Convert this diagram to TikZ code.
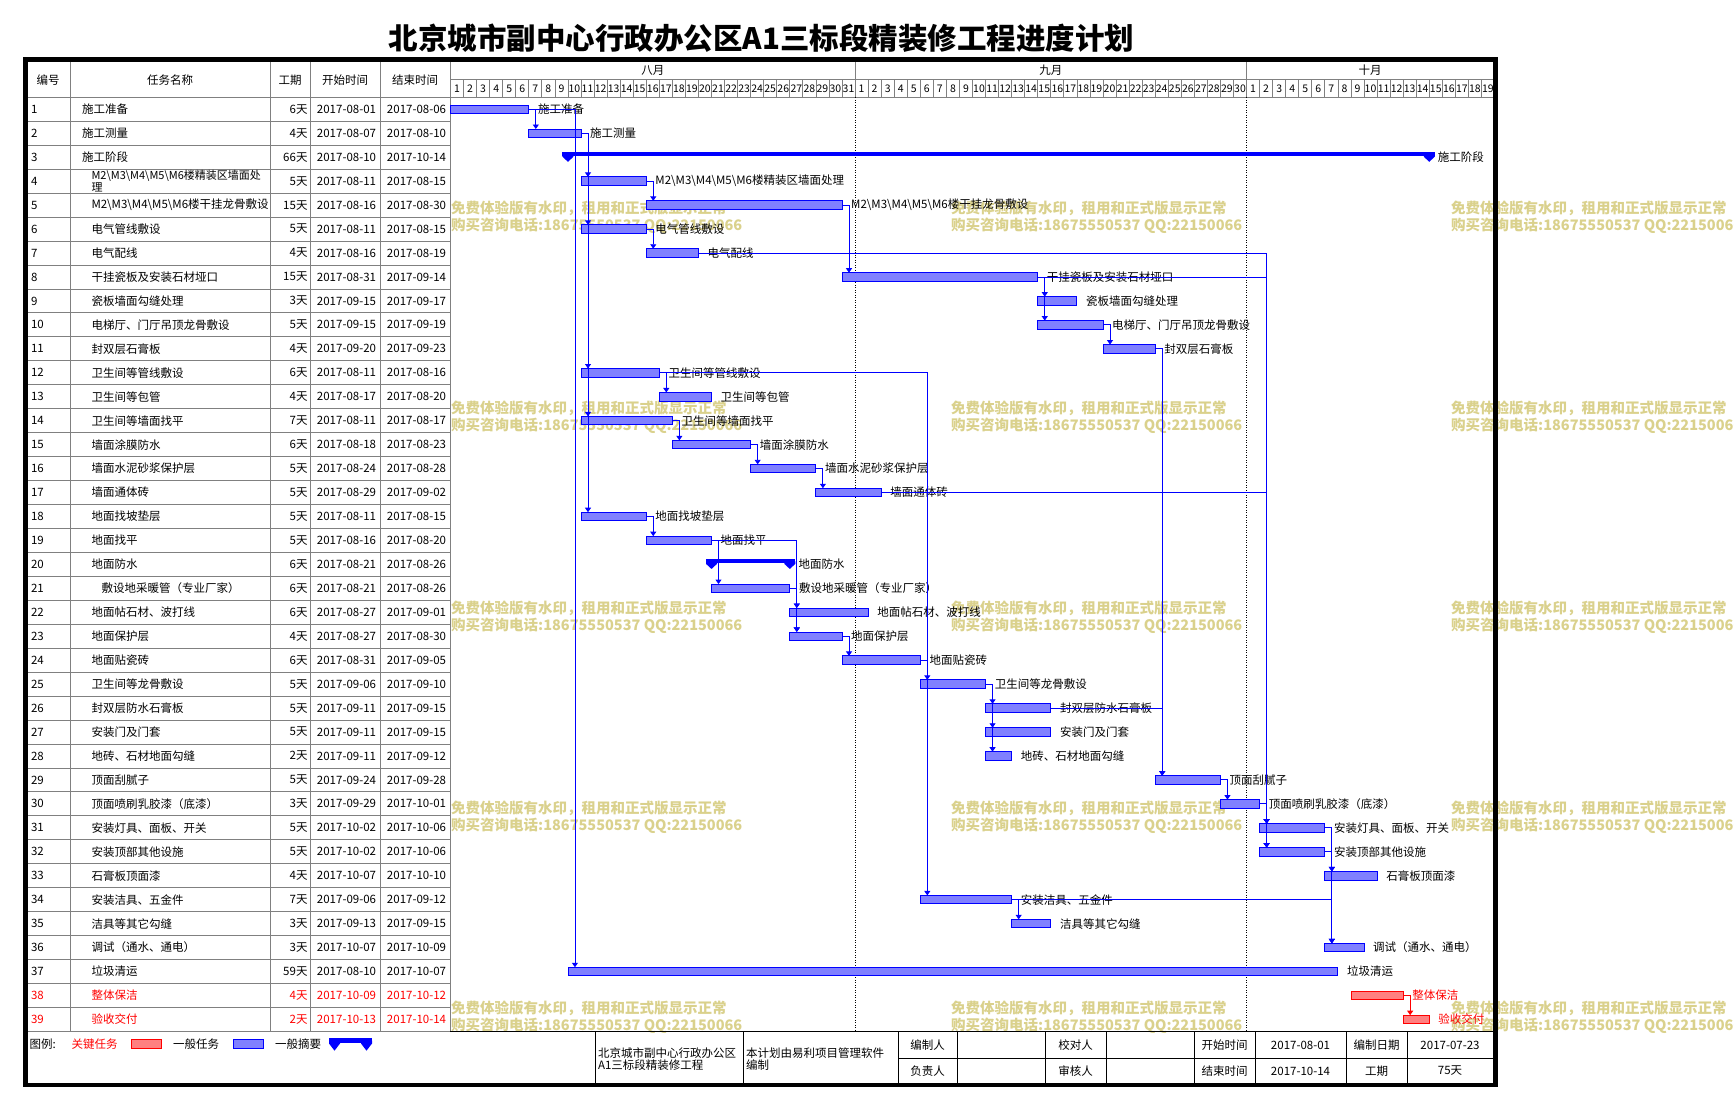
\documentclass[tikz,border=0pt]{standalone}
\usepackage{fontspec}
\setmainfont{Noto Sans CJK SC}
\usetikzlibrary{arrows.meta,calc}
\newcommand\fsz[1]{\fontsize{#1}{#1}\selectfont}
\definecolor{wmc}{RGB}{218,209,140}
\definecolor{gbfill}{RGB}{128,128,255}
\definecolor{crfill}{RGB}{255,128,128}
\definecolor{gline}{RGB}{128,128,128}
\definecolor{pblue}{RGB}{0,0,255}
\definecolor{pred}{RGB}{255,0,0}
% table row: [name style] row, colour, name x, name, duration, start, end
\newcommand\trow[8][]{%
 \pgfmathsetmacro\rY{109.3+23.95*(#2-1)}%
 \node[cell,text=#3,anchor=west] (n#2) at (31,\rY) {#2};
 \node[cell,text=#3,anchor=west,#1] (t#2) at (#4,\rY) {#5};
 \node[cell,text=#3,anchor=east] (du#2) at (307.5,\rY) {#6};
 \node[cell,text=#3] (s#2) at (346.5,\rY) {#7};
 \node[cell,text=#3] (e#2) at (416.5,\rY) {#8};
}
% bar: row, dstart, dend, label, style, text colour
\newcommand\gbar[6]{%
 \pgfmathsetmacro\gbX{450.5+13.05*#2}%
 \pgfmathsetmacro\gbW{13.05*(#3-#2)}%
 \pgfmathsetmacro\gbY{109.3+23.95*(#1-1)}%
 \node[#5, minimum width=\gbW pt] (b#1) at (\gbX,\gbY) {};
 \node[lbl,text=#6] (l#1) at ([xshift=9pt]b#1.east) {#4};
}
% summary: row, dstart, dend, label
\newcommand\gsum[4]{%
 \pgfmathsetmacro\gbX{450.5+13.05*#2}%
 \pgfmathsetmacro\gbE{450.5+13.05*#3}%
 \pgfmathsetmacro\gbW{\gbE-\gbX+11}%
 \pgfmathsetmacro\gbY{109.3+23.95*(#1-1)}%
 \node[sumbar, minimum width=\gbW pt, anchor=north west] (b#1) at (\gbX-5.5,\gbY-5.6) {};
 \fill[pblue] (\gbX-5.5,\gbY-3) -- ++(11,0) -- ++(0,2.5) -- (\gbX,\gbY+4.6) -- (\gbX-5.5,\gbY-0.5) -- cycle;
 \fill[pblue] (\gbE-5.5,\gbY-3) -- ++(11,0) -- ++(0,2.5) -- (\gbE,\gbY+4.6) -- (\gbE-5.5,\gbY-0.5) -- cycle;
 \node[lbl] (l#1) at (\gbE+8.5,\gbY) {#4};
}
\begin{document}
\begin{tikzpicture}[x=1pt,y=-1pt,
 cell/.style={inner sep=0pt, outer sep=0pt, font=\fsz{11.5}},
 gl/.style={draw=gline, line width=0.8pt},
 bl/.style={draw=black, line width=0.9pt},
 bar/.style={draw=pblue, line width=0.9pt, fill=gbfill, minimum height=8.5pt, inner sep=0pt, outer sep=0pt, anchor=west},
 crit/.style={bar, draw=pred, fill=crfill},
 sumbar/.style={fill=pblue, minimum height=4.5pt, inner sep=0pt, outer sep=0pt},
 lbl/.style={inner sep=0pt, anchor=west, font=\fsz{11.5}},
 conn/.style={draw=pblue, line width=0.9pt, -{Triangle[width=6pt,length=4.5pt]}},
 wm/.style={inner sep=0pt, anchor=west, text=wmc, font=\bfseries\fsz{14.5}},
 dotl/.style={draw=black, line width=0.8pt, dash pattern=on 1pt off 1.5pt},
 dayn/.style={inner sep=0pt, font=\fsz{10.5}},
]
\useasboundingbox (0,0) rectangle (1734,1109);
\fill[white] (0,0) rectangle (1734,1109);

% title
\node[font=\bfseries\fsz{29.5}, inner sep=0pt] (title) at (761.5,38.5) {北京城市副中心行政办公区A1三标段精装修工程进度计划};

% watermarks
\foreach \wx [count=\i] in {451,951,1451}{
 \foreach \wy [count=\j] in {208.3,408.3,608.3,808.3,1008.3}{
  \node[wm] (wmA\i\j) at (\wx,\wy) {免费体验版有水印，租用和正式版显示正常};
  \node[wm] (wmB\i\j) at (\wx,\wy+17.7) {购买咨询电话:18675550537 QQ:22150066};
 }}

% grid of table
\foreach \cx in {70,270,310,380,450} \draw[gl] (\cx,62) -- (\cx,1031.35);
\draw[gl] (27,97.3) -- (1494,97.3);
\draw[gl] (450,79.3) -- (1494,79.3);
\foreach \k in {1,...,38} \draw[gl] (27,{97.3+23.95*\k}) -- (450,{97.3+23.95*\k});
\draw[gl] (27,1031.35) -- (450,1031.35);
\draw[bl] (450,1031.35) -- (1494,1031.35);
\foreach \k in {1,...,79} \draw[gl] ({450.5+13.05*\k},79.3) -- ({450.5+13.05*\k},97.3);
\draw[gl] (855.05,62) -- (855.05,79.3);
\draw[gl] (1246.55,62) -- (1246.55,79.3);
\draw[dotl] (855.05,97.3) -- (855.05,1031.35);
\draw[dotl] (1246.55,97.3) -- (1246.55,1031.35);

% header
\node[cell] (hA) at (48,80) {编号};
\node[cell] (hB) at (170,80) {任务名称};
\node[cell] (hC) at (290,80) {工期};
\node[cell] (hD) at (345,80) {开始时间};
\node[cell] (hE) at (415,80) {结束时间};
\node[cell] (mA) at (652.8,70.6) {八月};
\node[cell] (mB) at (1050.8,70.6) {九月};
\node[cell] (mC) at (1370,70.6) {十月};
\foreach \d in {1,...,31} \node[dayn] (dA\d) at ({450.5+13.05*(\d-0.5)},88.5) {\d};
\foreach \d in {1,...,30} \node[dayn] (dB\d) at ({855.05+13.05*(\d-0.5)},88.5) {\d};
\foreach \d in {1,...,19} \node[dayn] (dC\d) at ({1246.55+13.05*(\d-0.5)},88.5) {\d};

% table rows
\trow{1}{black}{82}{施工准备}{6天}{2017-08-01}{2017-08-06}
\trow{2}{black}{82}{施工测量}{4天}{2017-08-07}{2017-08-10}
\trow{3}{black}{82}{施工阶段}{66天}{2017-08-10}{2017-10-14}
\trow[font={\fontsize{11}{10.7}\selectfont},align=left]{4}{black}{91.5}{M2\textbackslash M3\textbackslash M4\textbackslash M5\textbackslash M6楼精装区墙面处\\理}{5天}{2017-08-11}{2017-08-15}
\trow{5}{black}{91.5}{M2\textbackslash M3\textbackslash M4\textbackslash M5\textbackslash M6楼干挂龙骨敷设}{15天}{2017-08-16}{2017-08-30}
\trow{6}{black}{91.5}{电气管线敷设}{5天}{2017-08-11}{2017-08-15}
\trow{7}{black}{91.5}{电气配线}{4天}{2017-08-16}{2017-08-19}
\trow{8}{black}{91.5}{干挂瓷板及安装石材垭口}{15天}{2017-08-31}{2017-09-14}
\trow{9}{black}{91.5}{瓷板墙面勾缝处理}{3天}{2017-09-15}{2017-09-17}
\trow{10}{black}{91.5}{电梯厅、门厅吊顶龙骨敷设}{5天}{2017-09-15}{2017-09-19}
\trow{11}{black}{91.5}{封双层石膏板}{4天}{2017-09-20}{2017-09-23}
\trow{12}{black}{91.5}{卫生间等管线敷设}{6天}{2017-08-11}{2017-08-16}
\trow{13}{black}{91.5}{卫生间等包管}{4天}{2017-08-17}{2017-08-20}
\trow{14}{black}{91.5}{卫生间等墙面找平}{7天}{2017-08-11}{2017-08-17}
\trow{15}{black}{91.5}{墙面涂膜防水}{6天}{2017-08-18}{2017-08-23}
\trow{16}{black}{91.5}{墙面水泥砂浆保护层}{5天}{2017-08-24}{2017-08-28}
\trow{17}{black}{91.5}{墙面通体砖}{5天}{2017-08-29}{2017-09-02}
\trow{18}{black}{91.5}{地面找坡垫层}{5天}{2017-08-11}{2017-08-15}
\trow{19}{black}{91.5}{地面找平}{5天}{2017-08-16}{2017-08-20}
\trow{20}{black}{91.5}{地面防水}{6天}{2017-08-21}{2017-08-26}
\trow{21}{black}{101.5}{敷设地采暖管（专业厂家）}{6天}{2017-08-21}{2017-08-26}
\trow{22}{black}{91.5}{地面帖石材、波打线}{6天}{2017-08-27}{2017-09-01}
\trow{23}{black}{91.5}{地面保护层}{4天}{2017-08-27}{2017-08-30}
\trow{24}{black}{91.5}{地面贴瓷砖}{6天}{2017-08-31}{2017-09-05}
\trow{25}{black}{91.5}{卫生间等龙骨敷设}{5天}{2017-09-06}{2017-09-10}
\trow{26}{black}{91.5}{封双层防水石膏板}{5天}{2017-09-11}{2017-09-15}
\trow{27}{black}{91.5}{安装门及门套}{5天}{2017-09-11}{2017-09-15}
\trow{28}{black}{91.5}{地砖、石材地面勾缝}{2天}{2017-09-11}{2017-09-12}
\trow{29}{black}{91.5}{顶面刮腻子}{5天}{2017-09-24}{2017-09-28}
\trow{30}{black}{91.5}{顶面喷刷乳胶漆（底漆）}{3天}{2017-09-29}{2017-10-01}
\trow{31}{black}{91.5}{安装灯具、面板、开关}{5天}{2017-10-02}{2017-10-06}
\trow{32}{black}{91.5}{安装顶部其他设施}{5天}{2017-10-02}{2017-10-06}
\trow{33}{black}{91.5}{石膏板顶面漆}{4天}{2017-10-07}{2017-10-10}
\trow{34}{black}{91.5}{安装洁具、五金件}{7天}{2017-09-06}{2017-09-12}
\trow{35}{black}{91.5}{洁具等其它勾缝}{3天}{2017-09-13}{2017-09-15}
\trow{36}{black}{91.5}{调试（通水、通电）}{3天}{2017-10-07}{2017-10-09}
\trow{37}{black}{91.5}{垃圾清运}{59天}{2017-08-10}{2017-10-07}
\trow{38}{pred}{91.5}{整体保洁}{4天}{2017-10-09}{2017-10-12}
\trow{39}{pred}{91.5}{验收交付}{2天}{2017-10-13}{2017-10-14}

% bars
\gbar{1}{0}{6}{施工准备}{bar}{black}
\gbar{2}{6}{10}{施工测量}{bar}{black}
\gsum{3}{9}{75}{施工阶段}
\gbar{4}{10}{15}{M2\textbackslash M3\textbackslash M4\textbackslash M5\textbackslash M6楼精装区墙面处理}{bar}{black}
\gbar{5}{15}{30}{M2\textbackslash M3\textbackslash M4\textbackslash M5\textbackslash M6楼干挂龙骨敷设}{bar}{black}
\gbar{6}{10}{15}{电气管线敷设}{bar}{black}
\gbar{7}{15}{19}{电气配线}{bar}{black}
\gbar{8}{30}{45}{干挂瓷板及安装石材垭口}{bar}{black}
\gbar{9}{45}{48}{瓷板墙面勾缝处理}{bar}{black}
\gbar{10}{45}{50}{电梯厅、门厅吊顶龙骨敷设}{bar}{black}
\gbar{11}{50}{54}{封双层石膏板}{bar}{black}
\gbar{12}{10}{16}{卫生间等管线敷设}{bar}{black}
\gbar{13}{16}{20}{卫生间等包管}{bar}{black}
\gbar{14}{10}{17}{卫生间等墙面找平}{bar}{black}
\gbar{15}{17}{23}{墙面涂膜防水}{bar}{black}
\gbar{16}{23}{28}{墙面水泥砂浆保护层}{bar}{black}
\gbar{17}{28}{33}{墙面通体砖}{bar}{black}
\gbar{18}{10}{15}{地面找坡垫层}{bar}{black}
\gbar{19}{15}{20}{地面找平}{bar}{black}
\gsum{20}{20}{26}{地面防水}
\gbar{21}{20}{26}{敷设地采暖管（专业厂家）}{bar}{black}
\gbar{22}{26}{32}{地面帖石材、波打线}{bar}{black}
\gbar{23}{26}{30}{地面保护层}{bar}{black}
\gbar{24}{30}{36}{地面贴瓷砖}{bar}{black}
\gbar{25}{36}{41}{卫生间等龙骨敷设}{bar}{black}
\gbar{26}{41}{46}{封双层防水石膏板}{bar}{black}
\gbar{27}{41}{46}{安装门及门套}{bar}{black}
\gbar{28}{41}{43}{地砖、石材地面勾缝}{bar}{black}
\gbar{29}{54}{59}{顶面刮腻子}{bar}{black}
\gbar{30}{59}{62}{顶面喷刷乳胶漆（底漆）}{bar}{black}
\gbar{31}{62}{67}{安装灯具、面板、开关}{bar}{black}
\gbar{32}{62}{67}{安装顶部其他设施}{bar}{black}
\gbar{33}{67}{71}{石膏板顶面漆}{bar}{black}
\gbar{34}{36}{43}{安装洁具、五金件}{bar}{black}
\gbar{35}{43}{46}{洁具等其它勾缝}{bar}{black}
\gbar{36}{67}{70}{调试（通水、通电）}{bar}{black}
\gbar{37}{9}{68}{垃圾清运}{bar}{black}
\gbar{38}{69}{73}{整体保洁}{crit}{pred}
\gbar{39}{73}{75}{验收交付}{crit}{pred}

% connectors
\foreach \pa/\pb in {1/2,1/37,2/4,2/6,2/12,2/14,2/18,4/5,5/8,6/7,7/31,7/32,8/9,8/10,8/31,8/32,10/11,11/29,12/13,12/34,14/15,15/16,16/17,17/31,17/32,18/19,19/21,19/22,19/23,21/22,21/23,23/24,24/25,25/26,25/27,25/28,26/29,29/30,30/31,30/32,31/33,31/36,32/33,32/36,34/35,34/36}
 \draw[conn] (b\pa.east) -| ([xshift=7pt]b\pb.north west);
\draw[conn,draw=pred] (b38.east) -| ([xshift=7pt]b39.north west);

% legend
\node[cell,anchor=west] (lgA) at (29.6,1044) {图例:};
\node[cell,anchor=west,text=pred] (lgB) at (71.7,1044) {关键任务};
\node[crit,minimum width=30pt] (lgC) at (131,1044) {};
\node[cell,anchor=west] (lgD) at (173,1044) {一般任务};
\node[bar,minimum width=30pt] (lgE) at (233,1044) {};
\node[cell,anchor=west] (lgF) at (275,1044) {一般摘要};
\node[sumbar,minimum width=43pt,anchor=north west] (lgG) at (329,1038.3) {};
\fill[pblue] (329,1040.5) -- ++(11,0) -- ++(0,3) -- (334.5,1050.7) -- (329,1043.5) -- cycle;
\fill[pblue] (361,1040.5) -- ++(11,0) -- ++(0,3) -- (366.5,1050.7) -- (361,1043.5) -- cycle;

% footer table
\foreach \fx in {595.5,743,898,957,1045,1106,1194,1255,1346,1407} \draw[bl] (\fx,1031.35) -- (\fx,1083);
\draw[bl] (898,1058.5) -- (1494,1058.5);
\node[cell,anchor=west,align=left,font={\fontsize{11.5}{12}\selectfont}] (fA) at (598,1059) {北京城市副中心行政办公区\\A1三标段精装修工程};
\node[cell,anchor=west,align=left,font={\fontsize{11.5}{12}\selectfont}] (fB) at (746,1059) {本计划由易利项目管理软件\\编制};
\node[cell] (fC) at (927.5,1045) {编制人};
\node[cell] (fD) at (1075.5,1045) {校对人};
\node[cell] (fE) at (1224.5,1045) {开始时间};
\node[cell] (fF) at (1300.5,1045) {2017-08-01};
\node[cell] (fG) at (1376.5,1045) {编制日期};
\node[cell] (fH) at (1450,1045) {2017-07-23};
\node[cell] (fI) at (927.5,1071) {负责人};
\node[cell] (fJ) at (1075.5,1071) {审核人};
\node[cell] (fK) at (1224.5,1071) {结束时间};
\node[cell] (fL) at (1300.5,1071) {2017-10-14};
\node[cell] (fM) at (1376.5,1071) {工期};
\node[cell] (fN) at (1450,1071) {75天};

% frame
\draw[black,line width=4.8pt] (25.3,59.5) rectangle (1495.5,1085);
\end{tikzpicture}
\end{document}
